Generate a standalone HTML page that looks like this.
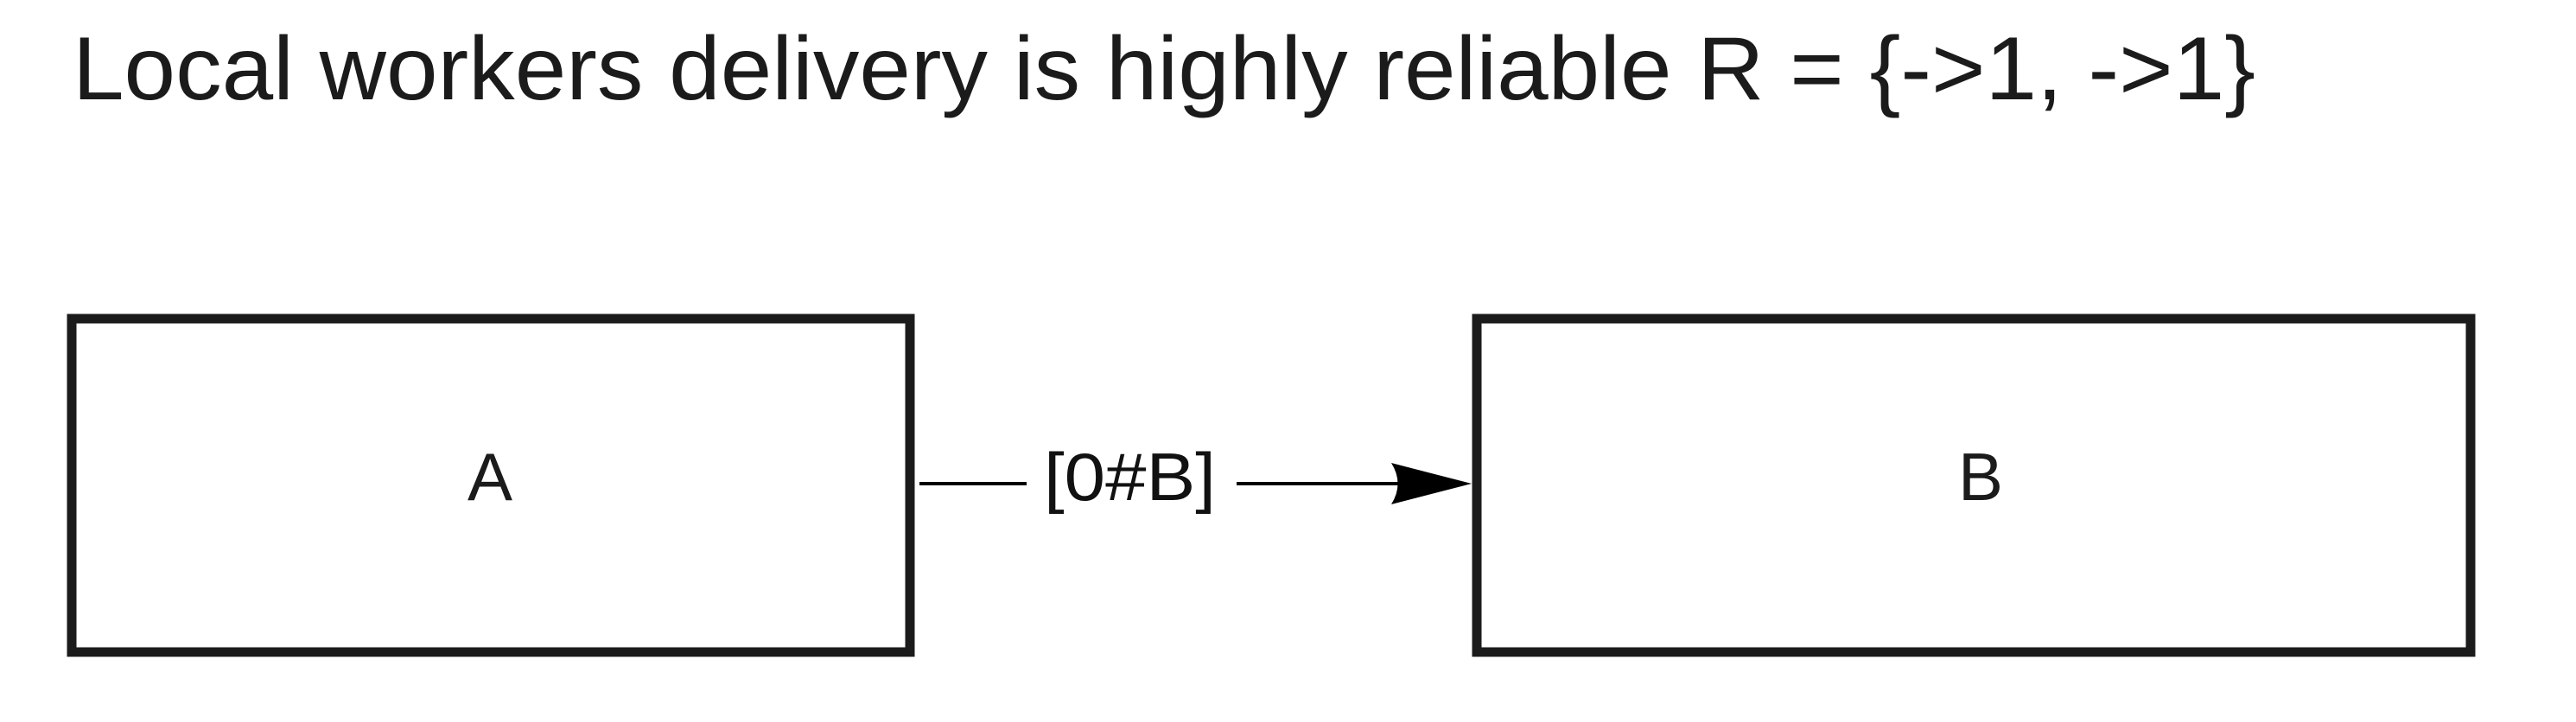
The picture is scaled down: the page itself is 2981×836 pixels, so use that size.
<!DOCTYPE html>
<html><head><meta charset="utf-8"><style>html,body{margin:0;padding:0;background:#fff;width:2981px;height:836px;overflow:hidden}</style></head>
<body>
<svg width="2981" height="836" viewBox="0 0 2981 836" xmlns="http://www.w3.org/2000/svg">
<rect width="2981" height="836" fill="#fff"/>
<text x="84" y="115" font-family="Liberation Sans, sans-serif" font-size="104" fill="#1b1b1b" textLength="2526" lengthAdjust="spacingAndGlyphs">Local workers delivery is highly reliable R = {-&gt;1, -&gt;1}</text>
<rect x="83" y="369" width="970" height="386" fill="none" stroke="#1b1b1b" stroke-width="11"/>
<rect x="1709" y="369" width="1150" height="386" fill="none" stroke="#1b1b1b" stroke-width="11"/>
<text x="567" y="579" text-anchor="middle" font-family="Liberation Sans, sans-serif" font-size="78" fill="#1b1b1b">A</text>
<text x="2292" y="579" text-anchor="middle" font-family="Liberation Sans, sans-serif" font-size="78" fill="#1b1b1b">B</text>
<line x1="1064" y1="560" x2="1188" y2="560" stroke="#000" stroke-width="4"/>
<text x="1208" y="579" font-family="Liberation Sans, sans-serif" font-size="78" fill="#111" textLength="199" lengthAdjust="spacingAndGlyphs">[0#B]</text>
<line x1="1431" y1="560" x2="1640" y2="560" stroke="#000" stroke-width="4"/>
<path d="M1703 560 L1610 536 Q1625 560 1610 584 Z" fill="#000"/>
</svg>
</body></html>
